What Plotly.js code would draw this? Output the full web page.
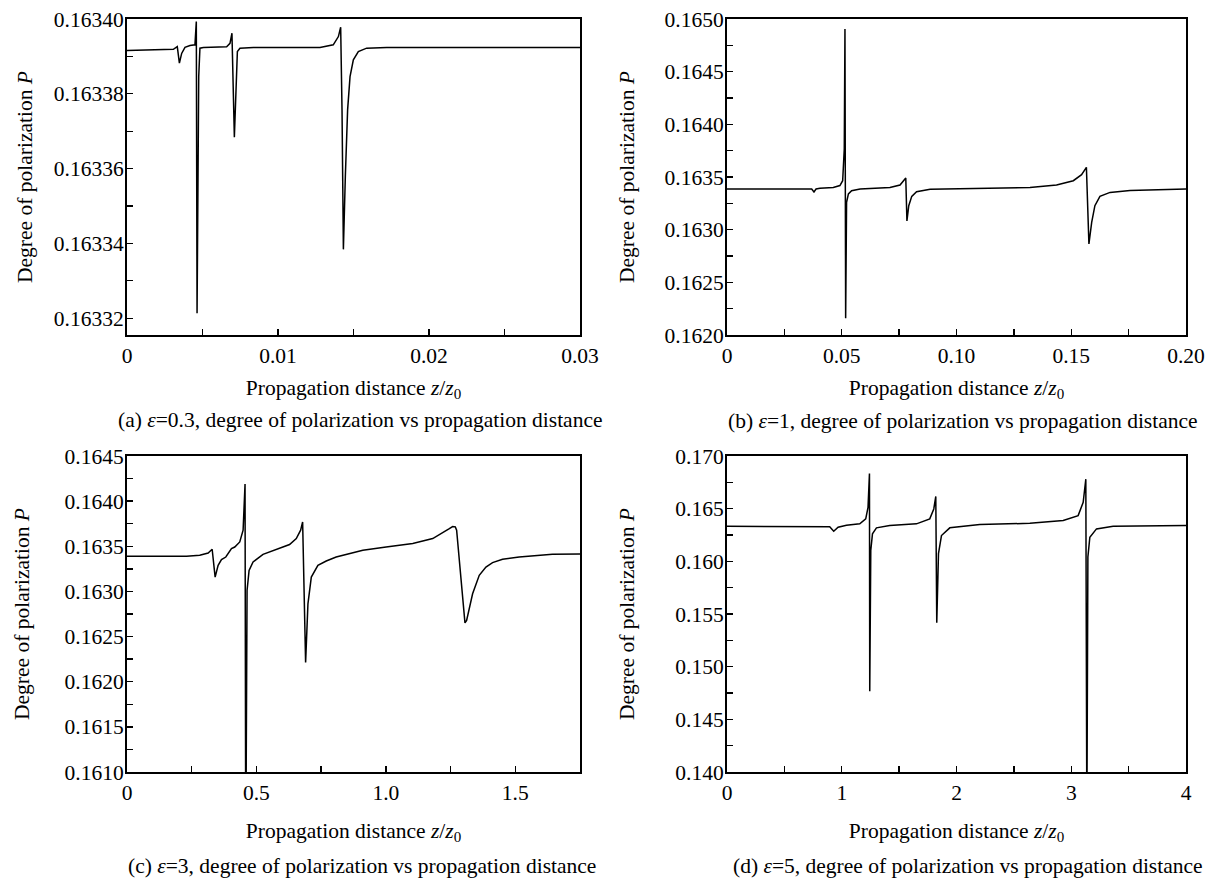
<!DOCTYPE html>
<html>
<head>
<meta charset="utf-8">
<script src="https://cdn.plot.ly/plotly-3.0.1.min.js"></script>
<style>html,body{margin:0;padding:0;background:#fff;}#chart{width:1215px;height:879px;}</style>
</head>
<body>
<div id="chart"></div>
<script>
// ---- Panel (a): epsilon = 0.3 ----
const aX = [0, 0.00307, 0.00333, 0.00347, 0.00362, 0.00384, 0.00417, 0.00450, 0.00459, 0.00464, 0.00475, 0.00483, 0.00506, 0.00660, 0.00682, 0.00695, 0.00711, 0.00720, 0.00731, 0.00748, 0.00837, 0.01278, 0.01366, 0.01400, 0.01415, 0.01424, 0.01433, 0.01446, 0.01461, 0.01477, 0.01499, 0.01532, 0.01587, 0.01720, 0.03];
const aY = [0.1633916, 0.1633919, 0.1633926, 0.1633882, 0.1633908, 0.1633924, 0.1633929, 0.1633931, 0.1633993, 0.1633213, 0.1633846, 0.1633922, 0.1633924, 0.1633926, 0.1633935, 0.1633962, 0.1633684, 0.1633802, 0.1633913, 0.1633922, 0.1633924, 0.1633924, 0.1633931, 0.1633953, 0.1633978, 0.1633757, 0.1633384, 0.1633580, 0.1633757, 0.1633846, 0.1633891, 0.1633913, 0.1633922, 0.1633924, 0.1633924];

// ---- Panel (b): epsilon = 1 ----
const bX = [0, 0.0369, 0.0379, 0.0388, 0.0405, 0.0463, 0.0492, 0.0504, 0.0511, 0.0514, 0.0517, 0.0521, 0.0529, 0.0543, 0.0580, 0.0710, 0.0754, 0.0771, 0.0779, 0.0784, 0.0792, 0.0805, 0.0826, 0.0885, 0.1030, 0.1320, 0.1436, 0.1509, 0.1545, 0.1566, 0.1577, 0.1589, 0.1603, 0.1625, 0.1669, 0.1756, 0.2];
const bY = [0.163386, 0.163386, 0.163358, 0.163386, 0.163393, 0.163400, 0.163419, 0.163465, 0.163766, 0.164905, 0.162158, 0.163259, 0.163339, 0.163370, 0.163386, 0.163400, 0.163424, 0.163465, 0.163490, 0.163082, 0.163228, 0.163316, 0.163361, 0.163383, 0.163389, 0.163400, 0.163424, 0.163465, 0.163522, 0.163592, 0.162864, 0.163070, 0.163228, 0.163316, 0.163354, 0.163373, 0.163386];

// ---- Panel (c): epsilon = 3 ----
const cX = [0, 0.23, 0.281, 0.3135, 0.329, 0.3405, 0.352, 0.365, 0.3817, 0.3907, 0.4036, 0.4163, 0.4356, 0.4485, 0.456, 0.4588, 0.4638, 0.4716, 0.487, 0.5255, 0.577, 0.628, 0.654, 0.6708, 0.6785, 0.690, 0.699, 0.712, 0.7375, 0.7697, 0.808, 0.8597, 0.911, 1.001, 1.104, 1.181, 1.2325, 1.2452, 1.2580, 1.2683, 1.2734, 1.2837, 1.2940, 1.3017, 1.3056, 1.3120, 1.3197, 1.3351, 1.3608, 1.3866, 1.4122, 1.4508, 1.5150, 1.5793, 1.6435, 1.75];
const cY = [0.163389, 0.163389, 0.163400, 0.163426, 0.163467, 0.163159, 0.163289, 0.163352, 0.163381, 0.163419, 0.163474, 0.163492, 0.163548, 0.163678, 0.164189, 0.1600, 0.163010, 0.163233, 0.163326, 0.163411, 0.163467, 0.163519, 0.163586, 0.163678, 0.163770, 0.162214, 0.162863, 0.163159, 0.163289, 0.163337, 0.163381, 0.163419, 0.163456, 0.163492, 0.163530, 0.163586, 0.163667, 0.163696, 0.163719, 0.163715, 0.163678, 0.163344, 0.162974, 0.162715, 0.162652, 0.162678, 0.162770, 0.162974, 0.163178, 0.163270, 0.163319, 0.163356, 0.163381, 0.163400, 0.163411, 0.163414];

// ---- Panel (d): epsilon = 5 ----
const dX = [0, 0.867, 0.895, 0.930, 0.968, 1.041, 1.157, 1.209, 1.229, 1.2415, 1.244, 1.253, 1.2677, 1.3025, 1.418, 1.651, 1.767, 1.802, 1.8195, 1.828, 1.843, 1.869, 1.9416, 2.203, 2.639, 2.93, 3.06, 3.104, 3.127, 3.136, 3.145, 3.162, 3.22, 3.365, 4.0];
const dY = [0.16333, 0.16333, 0.16329, 0.16286, 0.16324, 0.16343, 0.16356, 0.16403, 0.16513, 0.16833, 0.14767, 0.16104, 0.16261, 0.16318, 0.16340, 0.16356, 0.16403, 0.16497, 0.16616, 0.15418, 0.16073, 0.16245, 0.16318, 0.16349, 0.16361, 0.16387, 0.16434, 0.16560, 0.16780, 0.1350, 0.16041, 0.16229, 0.16308, 0.16333, 0.16340];

// ---- tick labels ----
const aXTickVals = [0, 0.01, 0.02, 0.03];
const aXTickText = ["0", "0.01", "0.02", "0.03"];
const bXTickVals = [0, 0.05, 0.10, 0.15, 0.20];
const bXTickText = ["0", "0.05", "0.10", "0.15", "0.20"];
const cXTickVals = [0, 0.5, 1.0, 1.5];
const cXTickText = ["0", "0.5", "1.0", "1.5"];
const dXTickVals = [0, 1, 2, 3, 4];
const dXTickText = ["0", "1", "2", "3", "4"];

const captions = [
  "(a) <i>ε</i>=0.3, degree of polarization vs propagation distance",
  "(b) <i>ε</i>=1, degree of polarization vs propagation distance",
  "(c) <i>ε</i>=3, degree of polarization vs propagation distance",
  "(d) <i>ε</i>=5, degree of polarization vs propagation distance"
];
const xTitle = "Propagation distance <i>z</i>/<i>z</i><sub>0</sub>";
const yTitle = "Degree of polarization <i>P</i>";

const FONT = "'Liberation Serif', 'Times New Roman', serif";
const FS = 21.5;
const W = 1215, H = 879;
const fx = p => p / W;
const fy = p => 1 - p / H;

const lineStyle = {color: "#000", width: 1.5};
const traces = [
  {x: aX, y: aY, xaxis: "x", yaxis: "y", mode: "lines", line: lineStyle},
  {x: bX, y: bY, xaxis: "x2", yaxis: "y2", mode: "lines", line: lineStyle},
  {x: cX, y: cY, xaxis: "x3", yaxis: "y3", mode: "lines", line: lineStyle},
  {x: dX, y: dY, xaxis: "x4", yaxis: "y4", mode: "lines", line: lineStyle}
];

function xa(dom, range, tv, tt, minorD, anchor, lblOff, titleOff) {
  return {
    domain: dom, range: range, anchor: anchor,
    showline: true, mirror: true, linecolor: "#000", linewidth: 2,
    ticks: "inside", ticklen: 6, tickwidth: 1.3, tickcolor: "#000",
    tickmode: "array", tickvals: tv, ticktext: tt,
    minor: {tickmode: "linear", tick0: 0, dtick: minorD, ticks: "inside", ticklen: 6, tickwidth: 1.3, tickcolor: "#000", showgrid: false},
    showgrid: false, zeroline: false,
    ticklabelstandoff: lblOff,
    tickfont: {family: FONT, size: FS, color: "#000"},
    title: {text: xTitle, font: {family: FONT, size: FS, color: "#000"}, standoff: titleOff}
  };
}
function ya(dom, range, dtick, fmt, minorD, anchor, titleOff) {
  return {
    domain: dom, range: range, anchor: anchor,
    showline: true, mirror: true, linecolor: "#000", linewidth: 2,
    ticks: "inside", ticklen: 6, tickwidth: 1.3, tickcolor: "#000",
    tickmode: "linear", tick0: 0, dtick: dtick, tickformat: fmt,
    minor: {tickmode: "linear", tick0: 0, dtick: minorD, ticks: "inside", ticklen: 6, tickwidth: 1.3, tickcolor: "#000", showgrid: false},
    showgrid: false, zeroline: false,
    ticklabelstandoff: -3,
    tickfont: {family: FONT, size: FS, color: "#000"},
    title: {text: yTitle, font: {family: FONT, size: FS, color: "#000"}, standoff: titleOff}
  };
}

const leftX = [fx(127), fx(580)];
const rightX = [fx(727), fx(1186)];
const topY = [fy(335), fy(19)];
const botY = [fy(772), fy(456)];

const capFont = {family: FONT, size: FS, color: "#000"};
const layout = {
  width: W, height: H,
  margin: {l: 0, r: 0, t: 0, b: 0},
  paper_bgcolor: "#fff", plot_bgcolor: "#fff",
  showlegend: false,
  font: {family: FONT, size: FS, color: "#000"},
  xaxis: xa(leftX, [0, 0.03], aXTickVals, aXTickText, 0.005, "y", 0, 13),
  yaxis: ya(topY, [0.1633155, 0.16340], 0.00002, ".5f", 0.00001, "x", 15),
  xaxis2: xa(rightX, [0, 0.2], bXTickVals, bXTickText, 0.025, "y2", 0, 13),
  yaxis2: ya(topY, [0.1620, 0.1650], 0.0005, ".4f", 0.00025, "x2", 24),
  xaxis3: xa(leftX, [0, 1.75], cXTickVals, cXTickText, 0.25, "y3", 0, 19),
  yaxis3: ya(botY, [0.1610, 0.1645], 0.0005, ".4f", 0.00025, "x3", 29),
  xaxis4: xa(rightX, [0, 4], dXTickVals, dXTickText, 0.5, "y4", 0, 19),
  yaxis4: ya(botY, [0.140, 0.170], 0.005, ".3f", 0.0025, "x4", 35),
  annotations: [
    {text: captions[0], x: fx(360), y: fy(420), xref: "paper", yref: "paper", showarrow: false, xanchor: "center", yanchor: "middle", font: capFont},
    {text: captions[1], x: fx(963), y: fy(421), xref: "paper", yref: "paper", showarrow: false, xanchor: "center", yanchor: "middle", font: capFont},
    {text: captions[2], x: fx(362), y: fy(866), xref: "paper", yref: "paper", showarrow: false, xanchor: "center", yanchor: "middle", font: capFont},
    {text: captions[3], x: fx(968), y: fy(866), xref: "paper", yref: "paper", showarrow: false, xanchor: "center", yanchor: "middle", font: capFont}
  ]
};

Plotly.newPlot("chart", traces, layout, {staticPlot: true, displayModeBar: false});
</script>
</body>
</html>
